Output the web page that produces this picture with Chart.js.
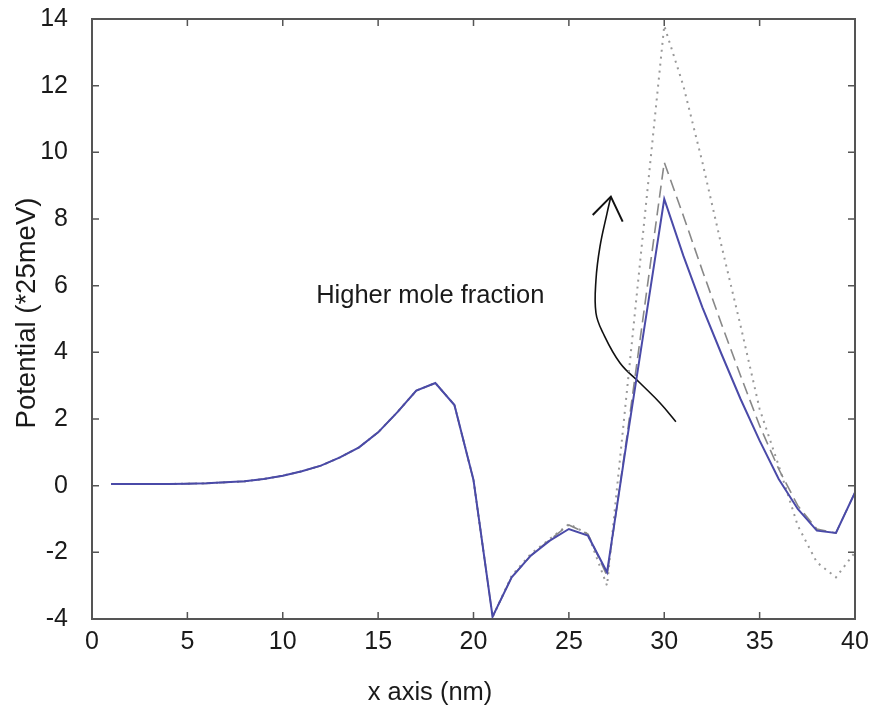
<!DOCTYPE html>
<html>
<head>
<meta charset="utf-8">
<script src="https://cdn.jsdelivr.net/npm/chart.js@4.4.1/dist/chart.umd.min.js"></script>
<style>
  html, body { margin: 0; padding: 0; background: #fff; }
  #wrap { width: 884px; height: 714px; }
</style>
</head>
<body>
<div id="wrap"><canvas id="chart" width="884" height="714"></canvas></div>
<script>
// positions along the device (nm)
const xPos = [1, 2, 3, 4, 5, 6, 7, 8, 9, 10, 11, 12, 13, 14, 15, 16, 17, 18, 19, 20,
  21, 22, 23, 24, 25, 26, 27, 28, 29, 30, 31, 32, 33, 34, 35, 36, 37, 38, 39, 40];

// potential profiles (*25meV), lowest to highest mole fraction
const potLow = [0.05, 0.05, 0.05, 0.05, 0.06, 0.07, 0.1, 0.13, 0.2, 0.3,
  0.43, 0.6, 0.85, 1.15, 1.6, 2.2, 2.85, 3.08, 2.42, 0.17,
  -3.93, -2.75, -2.1, -1.65, -1.3, -1.5, -2.6, 1.2, 4.9, 8.6,
  6.9, 5.35, 3.95, 2.6, 1.35, 0.2, -0.7, -1.35, -1.42, -0.2];
const potMid = [0.05, 0.05, 0.05, 0.05, 0.06, 0.07, 0.1, 0.13, 0.2, 0.3,
  0.43, 0.6, 0.85, 1.15, 1.6, 2.2, 2.85, 3.08, 2.42, 0.17,
  -3.93, -2.75, -2.1, -1.62, -1.18, -1.45, -2.7, 1.3, 5.5, 9.7,
  8.1, 6.45, 4.85, 3.3, 1.8, 0.5, -0.6, -1.3, -1.42, -0.2];
const potHigh = [0.05, 0.05, 0.05, 0.05, 0.06, 0.07, 0.1, 0.13, 0.2, 0.3,
  0.43, 0.6, 0.85, 1.15, 1.6, 2.2, 2.85, 3.08, 2.42, 0.17,
  -3.95, -2.7, -2.05, -1.6, -1.15, -1.45, -3.0, 2.6, 8.2, 13.8,
  12.0, 9.7, 7.2, 4.8, 2.3, 0.6, -1.2, -2.3, -2.75, -2.0];

// hand-drawn arrow, in axis units
const arrowX = [30.61, 29.78, 28.73, 27.68, 26.79, 26.42, 26.42, 26.63, 27.0, 27.2];
const arrowY = [1.92, 2.48, 3.08, 3.68, 4.58, 5.18, 6.17, 7.17, 8.17, 8.67];
const headX = [26.25, 27.2, 27.82];
const headY = [8.12, 8.67, 7.92];

const noteText = 'Higher mole fraction';
const noteAt = { x: 11.75, y: 5.48 };
const xTitle = 'x axis (nm)';
const yTitle = 'Potential (*25meV)';

const FONT = "'Liberation Sans', Arial, sans-serif";
const INK = '#1a1a1a';

function pts(xs, ys) {
  return xs.map((x, i) => ({ x: x, y: ys[i] }));
}

// box frame with inward ticks on all four sides, axis titles and the label
const frame = {
  id: 'frame',
  afterDraw(chart) {
    const { ctx, chartArea: a, scales } = chart;
    const xs = scales.x, ys = scales.y;
    ctx.save();
    ctx.strokeStyle = '#555';
    ctx.lineWidth = 2;
    ctx.strokeRect(a.left, a.top, a.right - a.left, a.bottom - a.top);
    ctx.lineWidth = 1.5;
    ctx.beginPath();
    xs.ticks.forEach(t => {
      const px = xs.getPixelForValue(t.value);
      ctx.moveTo(px, a.bottom); ctx.lineTo(px, a.bottom - 7);
      ctx.moveTo(px, a.top); ctx.lineTo(px, a.top + 7);
    });
    ys.ticks.forEach(t => {
      const py = ys.getPixelForValue(t.value);
      ctx.moveTo(a.left, py); ctx.lineTo(a.left + 7, py);
      ctx.moveTo(a.right, py); ctx.lineTo(a.right - 7, py);
    });
    ctx.stroke();

    ctx.fillStyle = INK;
    ctx.font = '25.5px ' + FONT;
    ctx.textBaseline = 'alphabetic';
    ctx.textAlign = 'left';
    ctx.fillText(noteText, xs.getPixelForValue(noteAt.x), ys.getPixelForValue(noteAt.y));

    ctx.textAlign = 'center';
    ctx.textBaseline = 'middle';
    ctx.fillText(xTitle, a.left + (a.right - a.left) * 0.443, 693);

    ctx.translate(27, a.top + (a.bottom - a.top) * 0.49);
    ctx.rotate(-Math.PI / 2);
    ctx.font = '27.5px ' + FONT;
    ctx.fillText(yTitle, 0, 0);
    ctx.restore();
  }
};

new Chart(document.getElementById('chart'), {
  type: 'line',
  data: {
    datasets: [
      {
        data: pts(xPos, potLow),
        borderColor: '#4a4aa8',
        borderWidth: 2,
        pointRadius: 0
      },
      {
        data: pts(xPos, potMid),
        borderColor: '#888',
        borderWidth: 1.6,
        borderDash: [12, 6],
        pointRadius: 0
      },
      {
        data: pts(xPos, potHigh),
        borderColor: '#999',
        borderWidth: 2,
        borderDash: [2, 5],
        pointRadius: 0
      },
      {
        data: pts(arrowX, arrowY),
        borderColor: '#111',
        borderWidth: 1.6,
        tension: 0.4,
        pointRadius: 0
      },
      {
        data: pts(headX, headY),
        borderColor: '#111',
        borderWidth: 2,
        pointRadius: 0
      }
    ]
  },
  options: {
    responsive: false,
    devicePixelRatio: 1,
    animation: false,
    layout: { padding: { top: 19, right: 29, left: 0, bottom: 0 } },
    plugins: {
      legend: { display: false },
      tooltip: { enabled: false }
    },
    scales: {
      x: {
        type: 'linear',
        min: 0,
        max: 40,
        afterFit(scale) {
          scale.height = 95;
          scale.paddingLeft = 0;
          scale.paddingRight = 0;
        },
        ticks: {
          stepSize: 5,
          padding: 0,
          color: INK,
          font: { family: FONT, size: 25 }
        },
        grid: { display: false },
        border: { display: false }
      },
      y: {
        min: -4,
        max: 14,
        afterFit(scale) {
          scale.width = 92;
          scale.paddingTop = 0;
          scale.paddingBottom = 0;
        },
        ticks: {
          stepSize: 2,
          padding: 16,
          color: INK,
          font: { family: FONT, size: 25 }
        },
        grid: { display: false },
        border: { display: false }
      }
    }
  },
  plugins: [frame]
});
</script>
</body>
</html>
